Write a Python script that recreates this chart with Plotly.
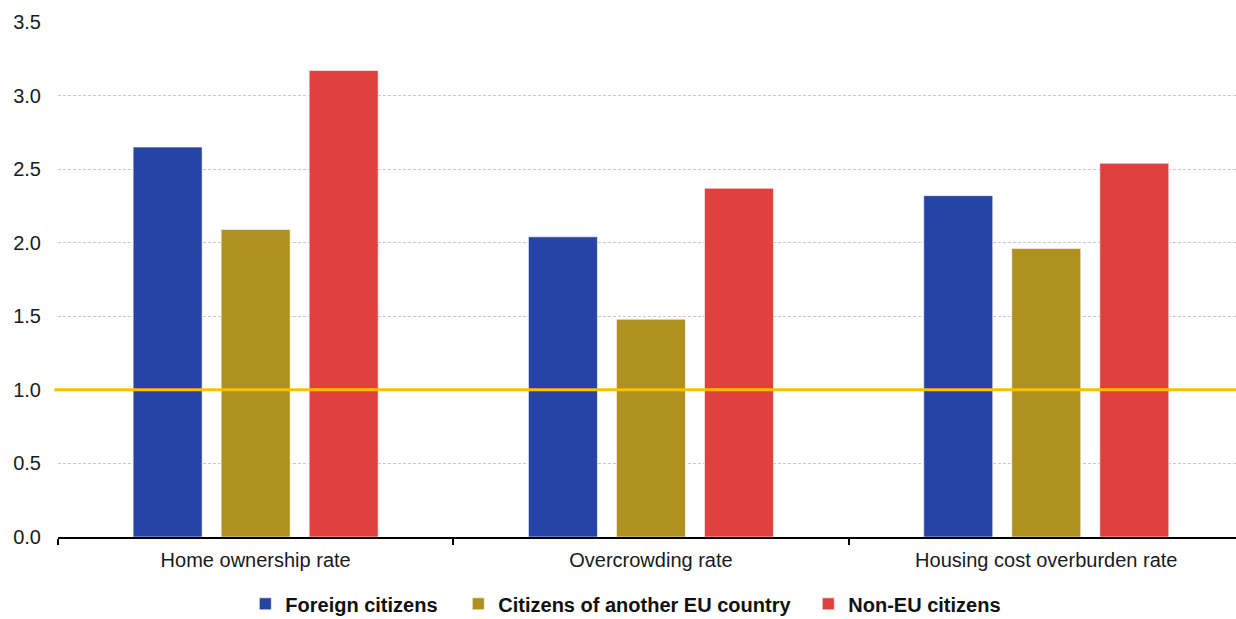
import plotly.graph_objects as go

# Ratios relative to nationals (1.0 = parity)
categories = ["Home ownership rate", "Overcrowding rate", "Housing cost overburden rate"]
series_names = ["Foreign citizens", "Citizens of another EU country", "Non-EU citizens"]
foreign = [2.65, 2.04, 2.32]
other_eu = [2.09, 1.48, 1.96]
non_eu = [3.17, 2.37, 2.54]
y_ticks = [0.0, 0.5, 1.0, 1.5, 2.0, 2.5, 3.0, 3.5]

colors = ["#2544a5", "#b09020", "#e04040"]
legend_widths = [168, 305, 160]
font_family = "Liberation Sans, Arial, sans-serif"

fig = go.Figure()
for name, vals, col, lw in zip(series_names, [foreign, other_eu, non_eu], colors, legend_widths):
    fig.add_trace(go.Bar(
        x=categories, y=vals, name=name, legendwidth=lw,
        marker=dict(color=col, line=dict(color="rgba(255,255,255,0.6)", width=1)),
    ))

# Reference line at parity
fig.add_shape(type="line", xref="paper", yref="y", x0=-0.003, x1=1, y0=1, y1=1,
              line=dict(color="#fbc000", width=3), layer="above")

fig.update_layout(
    width=1236, height=619,
    margin=dict(l=58, r=0, t=22, b=82),
    barmode="group", bargap=0.332, bargroupgap=0.216,
    plot_bgcolor="white", paper_bgcolor="white",
    font=dict(family=font_family, size=20, color="#1a1a1a"),
    showlegend=True,
    legend=dict(orientation="h", x=0.159, xanchor="left",
                yref="container", y=0.056, yanchor="top",
                font=dict(family=font_family, size=20, color="#111111", weight="bold"),
                itemwidth=30, tracegroupgap=0, traceorder="normal"),
    xaxis=dict(range=[-0.5, 2.48], showline=True, linecolor="black", linewidth=2,
               ticks="outside", tickson="boundaries", ticklen=6, tickwidth=2,
               tickcolor="black", showgrid=False, zeroline=False,
               ticklabelstandoff=4,
               tickfont=dict(size=20, color="#1a1a1a")),
    yaxis=dict(range=[0, 3.5], tickvals=y_ticks, tickformat=".1f",
               showgrid=True, gridcolor="#c8c8c8", griddash="3px,2px", gridwidth=1,
               zeroline=False, showline=False, ticks="", ticklabelstandoff=16,
               tickfont=dict(size=20, color="#1a1a1a")),
)

fig.write_html("out.html")
